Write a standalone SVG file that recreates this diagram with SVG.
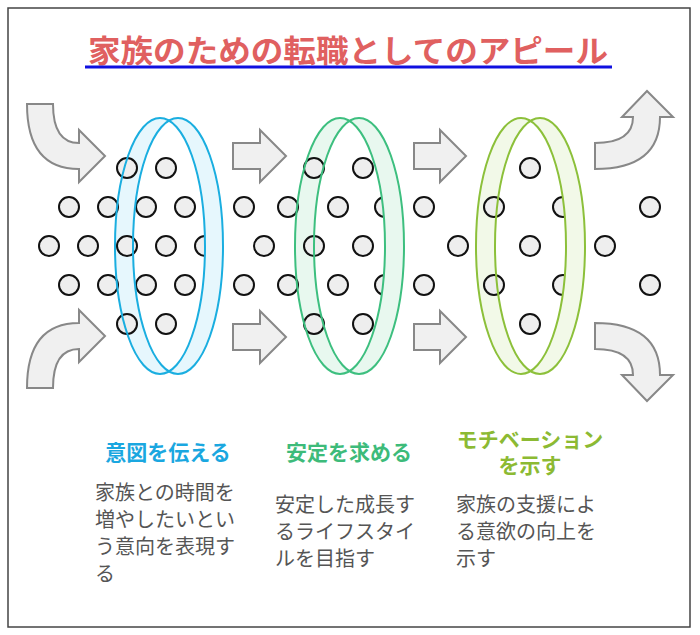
<svg xmlns="http://www.w3.org/2000/svg" width="700" height="635" viewBox="0 0 700 635">
<style>
.dot{fill:#eeeeee;stroke:#111;stroke-width:2}
.arr{fill:#f0f0f0;stroke:#888;stroke-width:2}
.t{font-family:"Noto Sans CJK JP","Noto Sans",sans-serif}
.h{font-size:21px;font-weight:bold;text-anchor:middle}
.b{font-size:20px;fill:#555}
</style>
<rect x="8" y="8" width="682" height="619" fill="#fff" stroke="#444" stroke-width="1.5"/>
<g id="title">
<text class="t" x="348" y="62" text-anchor="middle" font-size="31" font-weight="bold" fill="#e06060" textLength="520" lengthAdjust="spacingAndGlyphs">家族のための転職としてのアピール</text>
<line x1="85" y1="67" x2="612" y2="67" stroke="#1010e0" stroke-width="3"/>
</g>
<g id="connectors">
<path class="arr" d="M27,104 H53 Q53,143 79,143 V130 L105,156 L79,182 V169 Q27,169 27,104 Z"/>
<path class="arr" d="M27,388 H53 Q53,349 79,349 V362 L105,336 L79,310 V323 Q27,323 27,388 Z"/>
<path class="arr" d="M233,143 H260 V130 L286,156 L260,182 V169 H233 Z"/>
<path class="arr" d="M233,324 H260 V311 L286,337 L260,363 V350 H233 Z"/>
<path class="arr" d="M414,143 H440 V130 L466,156 L440,182 V169 H414 Z"/>
<path class="arr" d="M414,324 H440 V311 L466,337 L440,363 V350 H414 Z"/>
<path class="arr" d="M595,143 Q633,143 633,117 H622 L647,91 L673,117 H660 Q660,169 595,169 Z"/>
<path class="arr" d="M595,349 Q633,349 633,375 H622 L647,401 L673,375 H660 Q660,323 595,323 Z"/>
</g>
<g id="ring1">
<path fill="#e6f7fd" fill-rule="evenodd" d="M115,246 a45,128 0 1,0 90,0 a45,128 0 1,0 -90,0 Z M133,246 a45,128 0 1,0 90,0 a45,128 0 1,0 -90,0 Z"/>
<circle class="dot" cx="127" cy="168" r="10"/><circle class="dot" cx="166" cy="168" r="10"/>
<circle class="dot" cx="69" cy="207" r="10"/><circle class="dot" cx="108" cy="207" r="10"/><circle class="dot" cx="146" cy="207" r="10"/><circle class="dot" cx="185" cy="207" r="10"/>
<circle class="dot" cx="49" cy="246" r="10"/><circle class="dot" cx="88" cy="246" r="10"/><circle class="dot" cx="127" cy="246" r="10"/><circle class="dot" cx="166" cy="246" r="10"/><circle class="dot" cx="205" cy="246" r="10"/>
<circle class="dot" cx="69" cy="285" r="10"/><circle class="dot" cx="108" cy="285" r="10"/><circle class="dot" cx="146" cy="285" r="10"/><circle class="dot" cx="185" cy="285" r="10"/>
<circle class="dot" cx="127" cy="324" r="10"/><circle class="dot" cx="166" cy="324" r="10"/>
<circle class="dot" cx="244" cy="207" r="10"/><circle class="dot" cx="244" cy="285" r="10"/>
<clipPath id="c1"><rect x="178" y="100" width="60" height="300"/></clipPath>
<path fill="#e6f7fd" fill-rule="evenodd" d="M133,246 a45,128 0 1,0 90,0 a45,128 0 1,0 -90,0 Z M115,246 a45,128 0 1,0 90,0 a45,128 0 1,0 -90,0 Z" clip-path="url(#c1)"/>
<ellipse cx="160" cy="246" rx="45" ry="128" fill="none" stroke="#1aaee0" stroke-width="2"/>
<ellipse cx="178" cy="246" rx="45" ry="128" fill="none" stroke="#1aaee0" stroke-width="2"/>
</g>
<g id="ring2">
<path fill="#e8f8ef" fill-rule="evenodd" d="M295,246 a45,128 0 1,0 90,0 a45,128 0 1,0 -90,0 Z M314,246 a45,128 0 1,0 90,0 a45,128 0 1,0 -90,0 Z"/>
<circle class="dot" cx="288" cy="207" r="10"/><circle class="dot" cx="288" cy="285" r="10"/>
<circle class="dot" cx="264" cy="246" r="10"/>
<circle class="dot" cx="314" cy="168" r="10"/><circle class="dot" cx="363" cy="168" r="10"/>
<circle class="dot" cx="338" cy="207" r="10"/><circle class="dot" cx="385" cy="207" r="10"/>
<circle class="dot" cx="314" cy="246" r="10"/><circle class="dot" cx="363" cy="246" r="10"/>
<circle class="dot" cx="338" cy="285" r="10"/><circle class="dot" cx="385" cy="285" r="10"/>
<circle class="dot" cx="314" cy="324" r="10"/><circle class="dot" cx="363" cy="324" r="10"/>
<circle class="dot" cx="424" cy="207" r="10"/><circle class="dot" cx="424" cy="285" r="10"/>
<clipPath id="c2"><rect x="359" y="100" width="60" height="300"/></clipPath>
<path fill="#e8f8ef" fill-rule="evenodd" d="M295,246 a45,128 0 1,0 90,0 a45,128 0 1,0 -90,0 Z M314,246 a45,128 0 1,0 90,0 a45,128 0 1,0 -90,0 Z" clip-path="url(#c2)"/>
<ellipse cx="340" cy="246" rx="45" ry="128" fill="none" stroke="#3dbf7f" stroke-width="2"/>
<ellipse cx="359" cy="246" rx="45" ry="128" fill="none" stroke="#3dbf7f" stroke-width="2"/>
</g>
<g id="ring3">
<path fill="#f2f9e8" fill-rule="evenodd" d="M476,246 a45,128 0 1,0 90,0 a45,128 0 1,0 -90,0 Z M495,246 a45,128 0 1,0 90,0 a45,128 0 1,0 -90,0 Z"/>
<circle class="dot" cx="458" cy="246" r="10"/>
<circle class="dot" cx="530" cy="168" r="10"/>
<circle class="dot" cx="494" cy="207" r="10"/><circle class="dot" cx="563" cy="207" r="10"/>
<circle class="dot" cx="530" cy="246" r="10"/>
<circle class="dot" cx="494" cy="285" r="10"/><circle class="dot" cx="563" cy="285" r="10"/>
<circle class="dot" cx="530" cy="324" r="10"/>
<clipPath id="c3"><rect x="540" y="100" width="60" height="300"/></clipPath>
<path fill="#f2f9e8" fill-rule="evenodd" d="M476,246 a45,128 0 1,0 90,0 a45,128 0 1,0 -90,0 Z M495,246 a45,128 0 1,0 90,0 a45,128 0 1,0 -90,0 Z" clip-path="url(#c3)"/>
<ellipse cx="521" cy="246" rx="45" ry="128" fill="none" stroke="#8cc03a" stroke-width="2"/>
<ellipse cx="540" cy="246" rx="45" ry="128" fill="none" stroke="#8cc03a" stroke-width="2"/>
<circle class="dot" cx="605" cy="246" r="10"/>
<circle class="dot" cx="650" cy="207" r="10"/><circle class="dot" cx="650" cy="285" r="10"/>
</g>
<g id="label1">
<text class="t h" x="168" y="460" fill="#1aa7e0">意図を伝える</text>
<text class="t b" x="95" y="500">家族との時間を</text>
<text class="t b" x="95" y="527">増やしたいとい</text>
<text class="t b" x="95" y="554">う意向を表現す</text>
<text class="t b" x="95" y="581">る</text>
</g>
<g id="label2">
<text class="t h" x="349" y="460" fill="#3dbb7a">安定を求める</text>
<text class="t b" x="275" y="512">安定した成長す</text>
<text class="t b" x="275" y="539">るライフスタイ</text>
<text class="t b" x="275" y="566">ルを目指す</text>
</g>
<g id="label3">
<text class="t h" x="530" y="447" fill="#8cba33">モチベーション</text>
<text class="t h" x="530" y="473" fill="#8cba33">を示す</text>
<text class="t b" x="456" y="512">家族の支援によ</text>
<text class="t b" x="456" y="539">る意欲の向上を</text>
<text class="t b" x="456" y="566">示す</text>
</g>
</svg>
